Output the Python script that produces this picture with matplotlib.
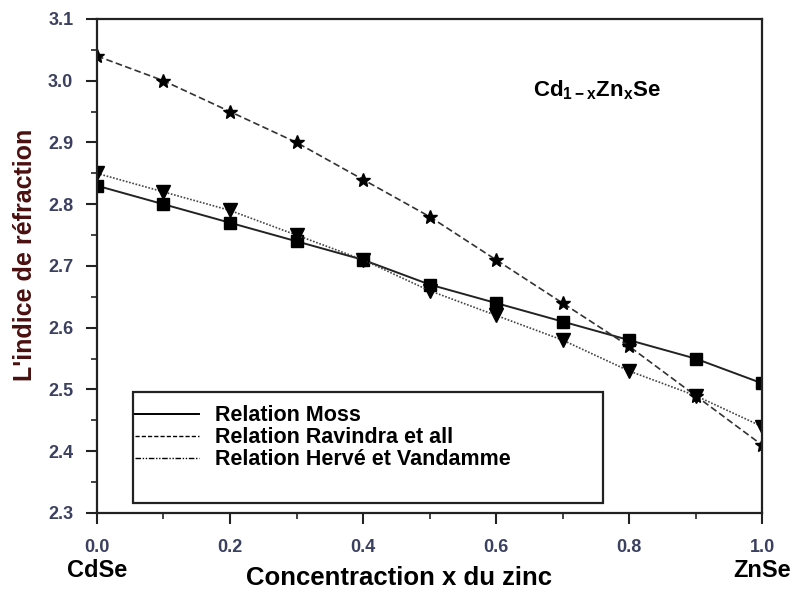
import numpy as np
import matplotlib
matplotlib.use('Agg')
import matplotlib.pyplot as plt
from matplotlib.ticker import MultipleLocator, FormatStrFormatter
from matplotlib.patches import Rectangle

plt.rcParams['font.family'] = ['Liberation Sans', 'DejaVu Sans']
plt.rcParams['mathtext.fontset'] = 'custom'
plt.rcParams['mathtext.rm'] = 'Liberation Sans:bold'
plt.rcParams['mathtext.bf'] = 'Liberation Sans:bold'

# Concentration x of zinc
x = [0.0, 0.1, 0.2, 0.3, 0.4, 0.5, 0.6, 0.7, 0.8, 0.9, 1.0]
# Refractive index for each relation
moss = [2.83, 2.80, 2.77, 2.74, 2.71, 2.67, 2.64, 2.61, 2.58, 2.55, 2.51]
ravindra = [3.04, 3.00, 2.95, 2.90, 2.84, 2.78, 2.71, 2.64, 2.57, 2.49, 2.41]
herve = [2.85, 2.82, 2.79, 2.75, 2.71, 2.66, 2.62, 2.58, 2.53, 2.49, 2.44]

labels = ['Relation Moss', 'Relation Ravindra et all', 'Relation Hervé et Vandamme']

fig = plt.figure(figsize=(7.93, 5.99), dpi=100)
ax = fig.add_axes([0.1223, 0.1436, 0.8387, 0.8247])

ax.plot(x, moss, color='#222222', lw=1.4, marker='s', ms=9, mfc='black', mec='black')
ax.plot(x, ravindra, color='#333333', lw=1.2, dashes=(4, 2), marker='*', ms=10, mfc='black', mec='black')
ax.plot(x, herve, color='#444444', lw=1.2, dashes=(1, 1), marker='v', ms=10, mfc='black', mec='black')

ax.set_xlim(0, 1.0)
ax.set_ylim(2.3, 3.1)
ax.xaxis.set_major_locator(MultipleLocator(0.2))
ax.xaxis.set_minor_locator(MultipleLocator(0.1))
ax.yaxis.set_major_locator(MultipleLocator(0.1))
ax.yaxis.set_minor_locator(MultipleLocator(0.05))
ax.xaxis.set_major_formatter(FormatStrFormatter('%.1f'))
ax.yaxis.set_major_formatter(FormatStrFormatter('%.1f'))
ax.tick_params(which='major', direction='out', length=8, width=1.5, colors='#222222',
               labelcolor='#3b4060', labelsize=13)
ax.tick_params(axis='x', which='major', pad=11)
ax.tick_params(axis='y', which='major', pad=9)
ax.tick_params(which='minor', direction='out', length=4.5, width=1.2, colors='#222222')
ax.tick_params(top=False, right=False, which='both')
for lab in ax.get_xticklabels() + ax.get_yticklabels():
    lab.set_fontweight('bold')
for s in ax.spines.values():
    s.set_linewidth(1.6)
    s.set_color('#222222')

ax.set_xlabel('Concentraction x du zinc', fontsize=18.5, fontweight='bold')
ax.xaxis.set_label_coords(0.454, -0.107)
ax.set_ylabel("L'indice de réfraction", fontsize=18, fontweight='bold', color='#4a1010')
ax.yaxis.set_label_coords(-0.090, 0.522)

ax.text(0.0, -0.117, 'CdSe', transform=ax.transAxes, ha='center', va='center',
        fontsize=17, fontweight='bold')
ax.text(1.0, -0.117, 'ZnSe', transform=ax.transAxes, ha='center', va='center',
        fontsize=17, fontweight='bold')
ax.text(0.655, 0.855, r'Cd$_{\mathbf{1-x}}$Zn$_{\mathbf{x}}$Se', transform=ax.transAxes,
        fontsize=16, fontweight='bold', va='center')

# legend box drawn separately, legend entries with line-only handles
ax.add_patch(Rectangle((0.054, 0.020), 0.707, 0.225, transform=ax.transAxes,
                       fill=True, facecolor='white', edgecolor='#222222', lw=1.6, zorder=4))
h1, = ax.plot([], [], color='black', lw=1.4)
h2, = ax.plot([], [], color='black', lw=1.0, dashes=(3, 1.5))
h3, = ax.plot([], [], color='black', lw=1.0, dashes=(4, 1.2, 1, 1.2, 1, 1.2))
leg = ax.legend([h1, h2, h3], labels, loc='upper left', bbox_to_anchor=(0.057, 0.218),
                frameon=False, prop={'weight': 'bold', 'size': 15.5}, handlelength=3.0,
                handletextpad=0.7, borderaxespad=0, borderpad=0, labelspacing=0.05)
leg.set_zorder(5)

fig.savefig('out.png', dpi=100)
